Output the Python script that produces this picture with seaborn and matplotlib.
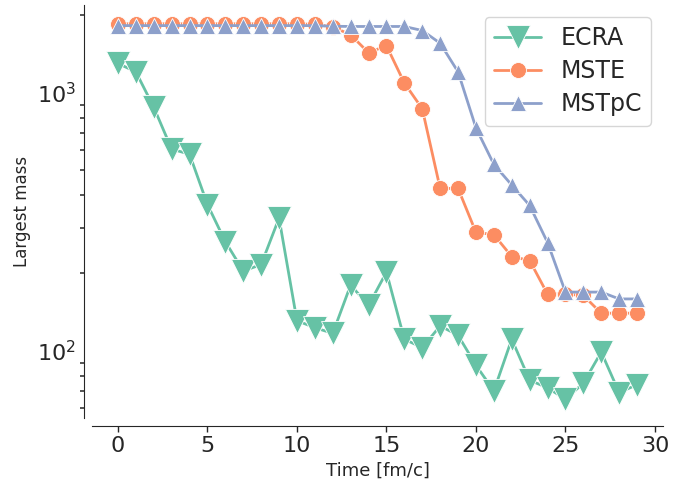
import numpy as np
import pandas as pd
import matplotlib
matplotlib.use("Agg")
import matplotlib.pyplot as plt
from matplotlib.ticker import LogLocator, NullFormatter
import seaborn as sns

# Time steps and largest fragment mass for each clusterization algorithm
time = list(range(30))
ecra = [1299, 1205, 879, 605, 578, 369, 265, 204, 216, 327,
        131, 123, 117, 180, 150, 202, 111, 103, 125, 115,
        88, 70, 111, 77, 72, 65, 75, 99, 69, 74]
mste = [1850, 1850, 1850, 1850, 1850, 1850, 1850, 1850, 1850, 1850,
        1850, 1840, 1800, 1676, 1429, 1522, 1091, 867, 426, 426,
        288, 282, 232, 224, 166, 166, 164, 140, 140, 140]
mstpc = [1820, 1820, 1820, 1820, 1820, 1820, 1820, 1820, 1820, 1820,
         1820, 1820, 1810, 1806, 1806, 1806, 1806, 1742, 1555, 1205,
         731, 528, 439, 366, 263, 169, 169, 169, 159, 159]
labels = ["ECRA", "MSTE", "MSTpC"]
markers = ["v", "o", "^"]
sizes = [17, 11.5, 12]

sns.set_style("ticks")
plt.rcParams["font.family"] = ["DejaVu Sans"]
colors = sns.color_palette("Set2", 3)

fig = plt.figure(figsize=(6.96, 4.84), dpi=100)
ax = fig.add_axes([92 / 696, 1 - 418 / 484, (663 - 92) / 696, (418 - 5) / 484])

for vals, lab, mk, ms, col in zip([ecra, mste, mstpc], labels, markers, sizes, colors):
    df = pd.DataFrame({"t": time, "m": vals})
    sns.lineplot(data=df, x="t", y="m", ax=ax, color=col, marker=mk,
                 markersize=ms, linewidth=2, markeredgecolor="white",
                 markeredgewidth=0.6, label=lab)

ax.set_yscale("log")
ax.yaxis.set_minor_locator(LogLocator(base=10, subs=np.arange(2, 10), numticks=20))
ax.yaxis.set_minor_formatter(NullFormatter())
ax.set_xticks([0, 5, 10, 15, 20, 25, 30])
ax.set_xlabel("Time [fm/c]", fontsize=13)
ax.set_ylabel("Largest mass", fontsize=12)
ax.tick_params(axis="both", which="major", labelsize=16, colors="#262626")
ax.tick_params(axis="x", which="major", length=4, width=1)
ax.tick_params(axis="y", which="major", length=0, pad=6)
ax.tick_params(axis="y", which="minor", left=True, length=2.6, width=1.1,
               color="#262626")

ax.legend(loc="upper right", fontsize=17, frameon=True, labelspacing=0.38)
sns.despine(ax=ax, offset=5.76)

fig.savefig("out.png", dpi=100)
